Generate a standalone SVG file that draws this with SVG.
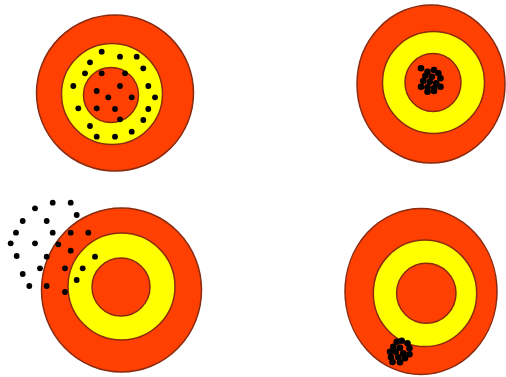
<svg xmlns="http://www.w3.org/2000/svg" width="506" height="377" viewBox="0 0 506 377">
<style>
.r{fill:#ff4000;stroke:#8a2a10;stroke-width:1.5}
.y{fill:#ffff00;stroke:#8a2a10;stroke-width:1.5}
.d{fill:#000}
</style>
<defs><circle id="p" r="2.9" class="d"/><circle id="q" r="3.3" class="d"/></defs>
<rect width="506" height="377" fill="#fff"/>
<g id="target1">
<ellipse class="r" cx="115" cy="93" rx="78.5" ry="78"/>
<circle class="y" cx="112" cy="94" r="50.5"/>
<circle class="r" cx="111" cy="95" r="27.5"/>
<g>
<use href="#p" x="101.7" y="51.7"/><use href="#p" x="120" y="56.7"/><use href="#p" x="136.7" y="56.7"/>
<use href="#p" x="90" y="62.3"/><use href="#p" x="143.3" y="68.3"/><use href="#p" x="85" y="73.3"/>
<use href="#p" x="101.7" y="73.3"/><use href="#p" x="125" y="73.3"/><use href="#p" x="73.3" y="86"/>
<use href="#p" x="120" y="86"/><use href="#p" x="148.3" y="86"/><use href="#p" x="96.7" y="91"/>
<use href="#p" x="108.3" y="97.3"/><use href="#p" x="131.7" y="97.3"/><use href="#p" x="155" y="97.3"/>
<use href="#p" x="78.3" y="108.3"/><use href="#p" x="96.7" y="108.3"/><use href="#p" x="115" y="109"/>
<use href="#p" x="148.3" y="109"/><use href="#p" x="120" y="119.3"/><use href="#p" x="143.3" y="120"/>
<use href="#p" x="90" y="126"/><use href="#p" x="131.7" y="131.7"/><use href="#p" x="96.7" y="136.7"/>
<use href="#p" x="115" y="136.7"/>
</g>
</g>
<g id="target2">
<ellipse class="r" cx="431" cy="84" rx="74" ry="79"/>
<ellipse class="y" cx="433.5" cy="82.5" rx="51" ry="51"/>
<ellipse class="r" cx="433" cy="82.5" rx="28" ry="29"/>
<g>
<use href="#q" x="421" y="68.3"/><use href="#q" x="427.5" y="71.7"/><use href="#q" x="434" y="70"/>
<use href="#q" x="438.4" y="73.3"/><use href="#q" x="425.4" y="75.7"/><use href="#q" x="431.9" y="76.7"/>
<use href="#q" x="440.5" y="78.3"/><use href="#q" x="423.2" y="81"/><use href="#q" x="429.7" y="81.7"/>
<use href="#q" x="436.2" y="83.3"/><use href="#q" x="421" y="86.7"/><use href="#q" x="427.5" y="87.3"/>
<use href="#q" x="434" y="88.3"/><use href="#q" x="440.5" y="86.7"/><use href="#q" x="427.5" y="91.7"/>
<use href="#q" x="434" y="91"/>
</g>
</g>
<g id="target3">
<ellipse class="r" cx="121.5" cy="290" rx="80" ry="82"/>
<ellipse class="y" cx="121.5" cy="286.5" rx="53.5" ry="53.5"/>
<circle class="r" cx="121" cy="287" r="29"/>
<g>
<use href="#p" x="35" y="208.3"/><use href="#p" x="52.7" y="202.7"/><use href="#p" x="70.7" y="202.7"/>
<use href="#p" x="76.7" y="215"/><use href="#p" x="22.7" y="221"/><use href="#p" x="46.7" y="221"/>
<use href="#p" x="16" y="232.7"/><use href="#p" x="52.7" y="232.7"/><use href="#p" x="70.7" y="232.7"/>
<use href="#p" x="88.3" y="232.7"/><use href="#p" x="10.7" y="243.3"/><use href="#p" x="35" y="243.3"/>
<use href="#p" x="58.3" y="244.3"/><use href="#p" x="70.7" y="250.7"/><use href="#p" x="16.7" y="256"/>
<use href="#p" x="46.7" y="256.7"/><use href="#p" x="95" y="256.7"/><use href="#p" x="40" y="268.3"/>
<use href="#p" x="65" y="268.3"/><use href="#p" x="82.7" y="268.3"/><use href="#p" x="22.7" y="274"/>
<use href="#p" x="76.7" y="280"/><use href="#p" x="29.3" y="286"/><use href="#p" x="46.7" y="286"/>
<use href="#p" x="65" y="292"/>
</g>
</g>
<g id="target4">
<ellipse class="r" cx="421" cy="291.5" rx="76" ry="83"/>
<ellipse class="y" cx="425" cy="293.3" rx="51.7" ry="53.3"/>
<ellipse class="r" cx="426.3" cy="293.3" rx="29.7" ry="30"/>
<g>
<use href="#q" x="396.7" y="341.7"/><use href="#q" x="401.7" y="340.7"/><use href="#q" x="407.5" y="343.3"/>
<use href="#q" x="393.3" y="346.7"/><use href="#q" x="400" y="347.7"/><use href="#q" x="409.5" y="348.3"/>
<use href="#q" x="390" y="351.7"/><use href="#q" x="395.7" y="351.7"/><use href="#q" x="403.3" y="353.3"/>
<use href="#q" x="409.5" y="354.3"/><use href="#q" x="391" y="357.3"/><use href="#q" x="398.3" y="357.3"/>
<use href="#q" x="405" y="358.3"/><use href="#q" x="392.5" y="362"/><use href="#q" x="400" y="362.3"/>
</g>
</g>
</svg>
